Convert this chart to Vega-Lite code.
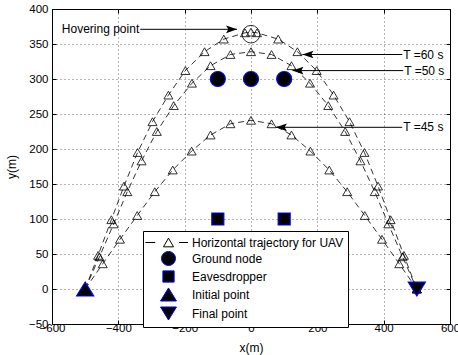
{
  "$schema": "https://vega.github.io/schema/vega-lite/v6.json",
  "width": 398,
  "height": 315,
  "autosize": {"type": "none"},
  "padding": {"left": 52, "top": 9, "right": 8, "bottom": 31},
  "background": "white",
  "config": {
    "font": "Liberation Sans",
    "view": {"stroke": "black", "strokeWidth": 1},
    "legend": {
      "orient": "none",
      "legendX": 91,
      "legendY": 222,
      "padding": 4,
      "rowPadding": 0,
      "symbolOffset": 14,
      "labelOffset": 16,
      "strokeColor": "black",
      "fillColor": "white",
      "labelFontSize": 12,
      "labelFont": "Liberation Sans",
      "labelColor": "black",
      "symbolSize": 196,
      "symbolStrokeWidth": 1,
      "cornerRadius": 0,
      "labelLimit": 300
    }
  },
  "resolve": {"axis": {"x": "independent", "y": "independent"}},
  "datasets": {
    "traj": [
      {"T": "60", "i": 0, "x": -500, "y": 0},
      {"T": "60", "i": 1, "x": -461, "y": 48},
      {"T": "60", "i": 2, "x": -421, "y": 99},
      {"T": "60", "i": 3, "x": -383, "y": 147},
      {"T": "60", "i": 4, "x": -342, "y": 195},
      {"T": "60", "i": 5, "x": -297, "y": 239},
      {"T": "60", "i": 6, "x": -249, "y": 277},
      {"T": "60", "i": 7, "x": -198, "y": 312},
      {"T": "60", "i": 8, "x": -140, "y": 339},
      {"T": "60", "i": 9, "x": -82, "y": 357},
      {"T": "60", "i": 10, "x": -18, "y": 366},
      {"T": "60", "i": 11, "x": 0, "y": 367},
      {"T": "60", "i": 12, "x": 18, "y": 366},
      {"T": "60", "i": 13, "x": 82, "y": 357},
      {"T": "60", "i": 14, "x": 140, "y": 339},
      {"T": "60", "i": 15, "x": 198, "y": 312},
      {"T": "60", "i": 16, "x": 249, "y": 277},
      {"T": "60", "i": 17, "x": 297, "y": 239},
      {"T": "60", "i": 18, "x": 342, "y": 195},
      {"T": "60", "i": 19, "x": 383, "y": 147},
      {"T": "60", "i": 20, "x": 421, "y": 99},
      {"T": "60", "i": 21, "x": 461, "y": 48},
      {"T": "60", "i": 22, "x": 500, "y": 0},
      {"T": "50", "i": 0, "x": -500, "y": 0},
      {"T": "50", "i": 1, "x": -457, "y": 46},
      {"T": "50", "i": 2, "x": -414, "y": 93},
      {"T": "50", "i": 3, "x": -373, "y": 139},
      {"T": "50", "i": 4, "x": -330, "y": 183},
      {"T": "50", "i": 5, "x": -284, "y": 225},
      {"T": "50", "i": 6, "x": -233, "y": 262},
      {"T": "50", "i": 7, "x": -178, "y": 294},
      {"T": "50", "i": 8, "x": -122, "y": 319},
      {"T": "50", "i": 9, "x": -62, "y": 335},
      {"T": "50", "i": 10, "x": 0, "y": 339},
      {"T": "50", "i": 11, "x": 62, "y": 335},
      {"T": "50", "i": 12, "x": 122, "y": 319},
      {"T": "50", "i": 13, "x": 178, "y": 294},
      {"T": "50", "i": 14, "x": 233, "y": 262},
      {"T": "50", "i": 15, "x": 284, "y": 225},
      {"T": "50", "i": 16, "x": 330, "y": 183},
      {"T": "50", "i": 17, "x": 373, "y": 139},
      {"T": "50", "i": 18, "x": 414, "y": 93},
      {"T": "50", "i": 19, "x": 457, "y": 46},
      {"T": "50", "i": 20, "x": 500, "y": 0},
      {"T": "45", "i": 0, "x": -500, "y": 0},
      {"T": "45", "i": 1, "x": -447, "y": 36},
      {"T": "45", "i": 2, "x": -395, "y": 71},
      {"T": "45", "i": 3, "x": -343, "y": 105},
      {"T": "45", "i": 4, "x": -290, "y": 139},
      {"T": "45", "i": 5, "x": -236, "y": 170},
      {"T": "45", "i": 6, "x": -179, "y": 197},
      {"T": "45", "i": 7, "x": -122, "y": 220},
      {"T": "45", "i": 8, "x": -62, "y": 236},
      {"T": "45", "i": 9, "x": 0, "y": 241},
      {"T": "45", "i": 10, "x": 62, "y": 236},
      {"T": "45", "i": 11, "x": 122, "y": 220},
      {"T": "45", "i": 12, "x": 179, "y": 197},
      {"T": "45", "i": 13, "x": 236, "y": 170},
      {"T": "45", "i": 14, "x": 290, "y": 139},
      {"T": "45", "i": 15, "x": 343, "y": 105},
      {"T": "45", "i": 16, "x": 395, "y": 71},
      {"T": "45", "i": 17, "x": 447, "y": 36},
      {"T": "45", "i": 18, "x": 500, "y": 0}
    ],
    "pts": [
      {"kind": "Ground node", "x": -100, "y": 300},
      {"kind": "Ground node", "x": 0, "y": 300},
      {"kind": "Ground node", "x": 100, "y": 300},
      {"kind": "Eavesdropper", "x": -100, "y": 100},
      {"kind": "Eavesdropper", "x": 100, "y": 100},
      {"kind": "Initial point", "x": -500, "y": 0},
      {"kind": "Final point", "x": 500, "y": 0}
    ],
    "hover": [{"x": 0, "y": 364}],
    "ann": [
      {"label": "Hovering point", "dir": "right", "tip": -42, "tail": -334, "y": 371},
      {"label": "T =60 s", "dir": "left", "tip": 155, "tail": 456, "y": 335},
      {"label": "T =50 s", "dir": "left", "tip": 125, "tail": 459, "y": 312},
      {"label": "T =45 s", "dir": "left", "tip": 75, "tail": 456, "y": 231}
    ]
  },
  "layer": [
    {
      "data": {"name": "traj"},
      "mark": {"type": "line", "strokeDash": [6, 4], "color": "black", "strokeWidth": 0.8},
      "encoding": {
        "x": {
          "field": "x", "type": "quantitative",
          "scale": {"domain": [-600, 600], "nice": false, "zero": false},
          "axis": {
            "orient": "bottom", "values": [-600, -400, -200, 0, 200, 400, 600],
            "title": "x(m)", "grid": true, "gridDash": [1, 3], "gridColor": "black", "gridOpacity": 0.6,
            "tickSize": -4, "tickColor": "black", "domainColor": "black",
            "labelFontSize": 11.5, "labelColor": "black", "labelPadding": 2.5, "labelFlush": false, "labelOverlap": false,
            "titleFontSize": 12, "titleFontWeight": "normal", "titleColor": "black", "titlePadding": 8
          }
        },
        "y": {
          "field": "y", "type": "quantitative",
          "scale": {"domain": [-50, 400], "nice": false, "zero": false},
          "axis": {
            "orient": "left", "values": [-50, 0, 50, 100, 150, 200, 250, 300, 350, 400],
            "title": "y(m)", "grid": true, "gridDash": [1, 3], "gridColor": "black", "gridOpacity": 0.6,
            "tickSize": -4, "tickColor": "black", "domainColor": "black",
            "labelFontSize": 11.5, "labelColor": "black", "labelPadding": 8, "labelFlush": false, "labelOverlap": false,
            "titleFontSize": 12, "titleFontWeight": "normal", "titleColor": "black", "titlePadding": 10
          }
        },
        "detail": {"field": "T"},
        "order": {"field": "i", "type": "quantitative"}
      }
    },
    {
      "data": {"name": "traj"},
      "mark": {"type": "point", "shape": "triangle-up", "size": 81, "filled": false, "stroke": "black", "strokeWidth": 0.8, "opacity": 1},
      "encoding": {
        "x": {"field": "x", "type": "quantitative", "axis": null},
        "y": {"field": "y", "type": "quantitative", "axis": null}
      }
    },
    {
      "data": {"name": "hover"},
      "mark": {"type": "point", "shape": "circle", "size": 310, "filled": false, "stroke": "black", "strokeWidth": 0.8, "opacity": 1},
      "encoding": {
        "x": {
          "field": "x", "type": "quantitative",
          "axis": {"orient": "top", "values": [-600, -400, -200, 0, 200, 400, 600], "labels": false, "title": null, "grid": false, "domain": false, "tickSize": -4, "tickColor": "black"}
        },
        "y": {
          "field": "y", "type": "quantitative",
          "axis": {"orient": "right", "values": [-50, 0, 50, 100, 150, 200, 250, 300, 350, 400], "labels": false, "title": null, "grid": false, "domain": false, "tickSize": -4, "tickColor": "black"}
        }
      }
    },
    {
      "data": {"name": "pts"},
      "mark": {"type": "point", "filled": true, "size": 225, "strokeWidth": 1.2, "opacity": 1},
      "encoding": {
        "x": {"field": "x", "type": "quantitative", "axis": null},
        "y": {"field": "y", "type": "quantitative", "axis": null},
        "shape": {
          "field": "kind", "type": "nominal",
          "scale": {
            "domain": ["Horizontal trajectory for UAV", "Ground node", "Eavesdropper", "Initial point", "Final point"],
            "range": ["M-3.3,0H-1.9M1.5,0H2.8M0,-0.62L0.72,0.62L-0.72,0.62Z", "circle", "M-0.8,-0.8H0.8V0.8H-0.8Z", "M0,-0.93L1.14,0.93L-1.14,0.93Z", "M0,0.93L1.14,-0.93L-1.14,-0.93Z"]
          },
          "legend": {"title": null}
        },
        "fill": {
          "field": "kind", "type": "nominal",
          "scale": {
            "domain": ["Horizontal trajectory for UAV", "Ground node", "Eavesdropper", "Initial point", "Final point"],
            "range": ["white", "black", "black", "black", "black"]
          },
          "legend": {"title": null}
        },
        "stroke": {
          "field": "kind", "type": "nominal",
          "scale": {
            "domain": ["Horizontal trajectory for UAV", "Ground node", "Eavesdropper", "Initial point", "Final point"],
            "range": ["black", "#0000ff", "#0000ff", "#0000ff", "#0000ff"]
          },
          "legend": {"title": null}
        }
      }
    },
    {
      "data": {"name": "ann"},
      "mark": {"type": "rule", "color": "black", "strokeWidth": 1},
      "encoding": {
        "x": {"field": "tip", "type": "quantitative", "axis": null},
        "x2": {"field": "tail"},
        "y": {"field": "y", "type": "quantitative", "axis": null}
      }
    },
    {
      "data": {"name": "ann"},
      "transform": [{"filter": "datum.dir == 'left'"}],
      "mark": {"type": "point", "shape": "M0,0L2,-0.7L1.6,0L2,0.7Z", "size": 121, "filled": true, "color": "black", "strokeWidth": 0, "opacity": 1},
      "encoding": {
        "x": {"field": "tip", "type": "quantitative", "axis": null},
        "y": {"field": "y", "type": "quantitative", "axis": null}
      }
    },
    {
      "data": {"name": "ann"},
      "transform": [{"filter": "datum.dir == 'right'"}],
      "mark": {"type": "point", "shape": "M0,0L-2,-0.7L-1.6,0L-2,0.7Z", "size": 121, "filled": true, "color": "black", "strokeWidth": 0, "opacity": 1},
      "encoding": {
        "x": {"field": "tip", "type": "quantitative", "axis": null},
        "y": {"field": "y", "type": "quantitative", "axis": null}
      }
    },
    {
      "data": {"name": "ann"},
      "transform": [{"filter": "datum.dir == 'left'"}],
      "mark": {"type": "text", "align": "left", "baseline": "middle", "dx": 1, "fontSize": 12, "font": "Liberation Sans", "color": "black"},
      "encoding": {
        "x": {"field": "tail", "type": "quantitative", "axis": null},
        "y": {"field": "y", "type": "quantitative", "axis": null},
        "text": {"field": "label"}
      }
    },
    {
      "data": {"name": "ann"},
      "transform": [{"filter": "datum.dir == 'right'"}],
      "mark": {"type": "text", "align": "right", "baseline": "middle", "dx": -1, "fontSize": 12, "font": "Liberation Sans", "color": "black"},
      "encoding": {
        "x": {"field": "tail", "type": "quantitative", "axis": null},
        "y": {"field": "y", "type": "quantitative", "axis": null},
        "text": {"field": "label"}
      }
    }
  ]
}
